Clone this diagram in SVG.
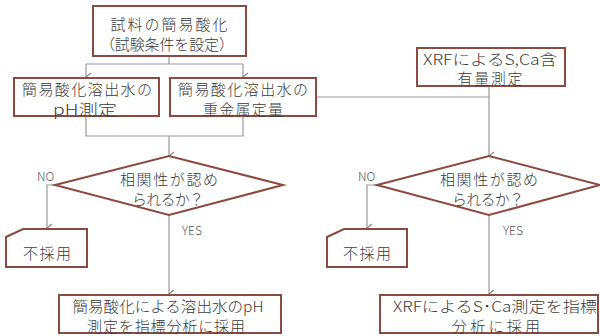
<svg xmlns="http://www.w3.org/2000/svg" width="600" height="336" viewBox="0 0 600 336">
<style>
.box{fill:#fff;stroke:#8b4b40;stroke-width:2}
.t{font-family:"Noto Sans CJK JP",sans-serif;font-size:15px;font-weight:300;fill:#3a3a3a;text-anchor:middle;dominant-baseline:central}
.l{font-weight:300}
.lbl{font-family:"Noto Sans CJK JP",sans-serif;font-size:12px;font-weight:300;fill:#555;dominant-baseline:central}
.c{fill:none;stroke:#9a9a9a;stroke-width:1.2}
</style>
<defs>
<marker id="a" markerWidth="10" markerHeight="10" refX="5" refY="8" orient="auto-start-reverse" markerUnits="userSpaceOnUse" viewBox="0 0 10 10">
<polyline points="1,3 5,8 9,3" fill="none" stroke="#888" stroke-width="1.2"/>
</marker>
</defs>
<g id="connectors">
<polyline class="c" points="169,56 169,64"/>
<polyline class="c" points="86,64 243,64"/>
<polyline class="c" points="86,64 86,77" marker-end="url(#a)"/>
<polyline class="c" points="243,64 243,77" marker-end="url(#a)"/>
<polyline class="c" points="86,116 86,136 243,136 243,116"/>
<polyline class="c" points="169,136 169,156" marker-end="url(#a)"/>
<polyline class="c" points="316,97 489,97"/>
<polyline class="c" points="489,86 489,156" marker-end="url(#a)"/>
<polyline class="c" points="55,185 47,185 47,228" marker-end="url(#a)"/>
<polyline class="c" points="169,215 169,294" marker-end="url(#a)"/>
<polyline class="c" points="377,185 367,185 367,228" marker-end="url(#a)"/>
<polyline class="c" points="489,215 489,294" marker-end="url(#a)"/>
</g>
<g id="n1">
<rect class="box" x="93" y="6" width="153" height="50"/>
<text class="t" x="169" y="23" textLength="117" lengthAdjust="spacing">試料の簡易酸化</text>
<text class="t" x="167" y="43" textLength="134" lengthAdjust="spacing">（試験条件を設定）</text>
</g>
<g id="n2">
<rect class="box" x="14" y="78" width="145" height="38"/>
<text class="t" x="87" y="88" textLength="130" lengthAdjust="spacing">簡易酸化溶出水の</text>
<text class="t" x="85" y="108" textLength="64" lengthAdjust="spacingAndGlyphs">pH測定</text>
</g>
<g id="n3">
<rect class="box" x="170" y="78" width="146" height="38"/>
<text class="t" x="243" y="88" textLength="130" lengthAdjust="spacing">簡易酸化溶出水の</text>
<text class="t" x="243" y="108" textLength="80" lengthAdjust="spacing">重金属定量</text>
</g>
<g id="n4">
<rect class="box" x="417" y="48" width="148" height="38"/>
<text class="t" x="490" y="58" textLength="134" lengthAdjust="spacingAndGlyphs">XRFによるS,Ca含</text>
<text class="t" x="490" y="77" textLength="65" lengthAdjust="spacing">有量測定</text>
</g>
<g id="d1">
<polygon class="box" points="55,185 169,156 283,185 169,215"/>
<text class="t" x="169" y="178" textLength="98" lengthAdjust="spacing">相関性が認め</text>
<text class="t" x="168" y="198" textLength="72" lengthAdjust="spacing">られるか？</text>
</g>
<g id="d2">
<polygon class="box" points="377,185 489,156 600,185 489,215"/>
<text class="t" x="489" y="178" textLength="98" lengthAdjust="spacing">相関性が認め</text>
<text class="t" x="488" y="198" textLength="72" lengthAdjust="spacing">られるか？</text>
</g>
<g id="labels">
<text class="lbl" x="37" y="175">NO</text>
<text class="lbl" x="182" y="229">YES</text>
<text class="lbl" x="358" y="175">NO</text>
<text class="lbl" x="503" y="229">YES</text>
</g>
<g id="r1">
<path class="box" d="M6,237 L23,229 H87 V267 H6 Z"/>
<text class="t" x="47" y="252" textLength="48" lengthAdjust="spacing">不採用</text>
</g>
<g id="r2">
<path class="box" d="M327,237 L344,229 H407 V267 H327 Z"/>
<text class="t" x="367" y="252" textLength="48" lengthAdjust="spacing">不採用</text>
</g>
<g id="a1">
<rect class="box" x="59" y="295" width="222" height="38"/>
<text class="t" x="168" y="305" textLength="191" lengthAdjust="spacingAndGlyphs">簡易酸化による溶出水のpH</text>
<text class="t" x="166" y="325" textLength="158" lengthAdjust="spacing">測定を指標分析に採用</text>
</g>
<g id="a2">
<rect class="box" x="380" y="295" width="218" height="38"/>
<text class="t" x="495" y="305" textLength="204" lengthAdjust="spacingAndGlyphs">XRFによるS･Ca測定を指標</text>
<text class="t" x="496" y="325" textLength="88" lengthAdjust="spacing">分析に採用</text>
</g>
</svg>
